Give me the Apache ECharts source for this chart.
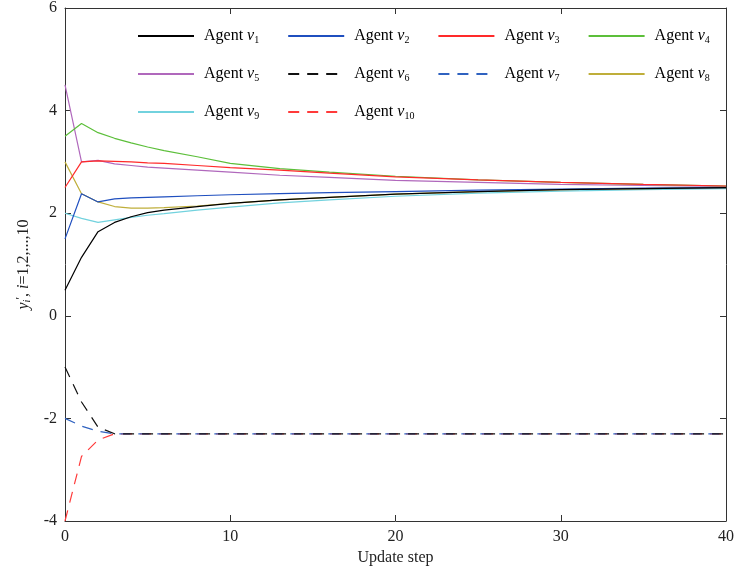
<!DOCTYPE html>
<html>
<head>
<meta charset="utf-8">
<script src="https://cdn.jsdelivr.net/npm/echarts@6/dist/echarts.min.js"></script>
<style>html,body{margin:0;padding:0;background:#fff}#c{width:739px;height:579px}</style>
</head>
<body>
<div id="c"></div>
<script>
const steps = [0, 1, 2, 3, 4, 5, 6, 8, 10, 13, 16, 20, 25, 30, 35, 40];
const v1 = [0.5, 1.14, 1.64, 1.82, 1.93, 2.01, 2.06, 2.13, 2.19, 2.26, 2.31, 2.37, 2.42, 2.46, 2.48, 2.5];
const v2 = [1.5, 2.38, 2.22, 2.28, 2.3, 2.31, 2.32, 2.34, 2.36, 2.38, 2.40, 2.42, 2.45, 2.47, 2.49, 2.5];
const v3 = [2.5, 3.0, 3.02, 3.01, 3.0, 2.98, 2.97, 2.93, 2.89, 2.84, 2.78, 2.71, 2.65, 2.6, 2.56, 2.53];
const v4 = [3.5, 3.75, 3.57, 3.46, 3.37, 3.29, 3.22, 3.1, 2.97, 2.87, 2.8, 2.72, 2.65, 2.6, 2.56, 2.53];
const v5 = [4.5, 3.0, 3.03, 2.96, 2.93, 2.9, 2.88, 2.84, 2.8, 2.74, 2.7, 2.64, 2.6, 2.56, 2.54, 2.52];
const v6 = [-1.0, -1.68, -2.17, -2.3, -2.3, -2.3, -2.3, -2.3, -2.3, -2.3, -2.3, -2.3, -2.3, -2.3, -2.3, -2.3];
const v7 = [-2.0, -2.15, -2.25, -2.3, -2.3, -2.3, -2.3, -2.3, -2.3, -2.3, -2.3, -2.3, -2.3, -2.3, -2.3, -2.3];
const v8 = [3.0, 2.38, 2.22, 2.13, 2.1, 2.1, 2.11, 2.14, 2.19, 2.26, 2.31, 2.37, 2.42, 2.46, 2.48, 2.5];
const v9 = [2.0, 1.9, 1.82, 1.87, 1.92, 1.96, 1.99, 2.06, 2.12, 2.2, 2.26, 2.33, 2.39, 2.43, 2.46, 2.48];
const v10 = [-4.0, -2.74, -2.42, -2.3, -2.3, -2.3, -2.3, -2.3, -2.3, -2.3, -2.3, -2.3, -2.3, -2.3, -2.3, -2.3];
const xTicks = [0, 10, 20, 30, 40];
const yTicks = [-4, -2, 0, 2, 4, 6];

const names = ['Agent v1','Agent v2','Agent v3','Agent v4','Agent v5','Agent v6','Agent v7','Agent v8','Agent v9','Agent v10'];
const values = [v1, v2, v3, v4, v5, v6, v7, v8, v9, v10];
const colors = ['#000000','#1f4fbf','#ff2a2a','#5cbf3a','#b068bc','#111111','#2f62c0','#bfae3a','#72d2de','#ff3a3a'];
const dashed = [false,false,false,false,false,true,true,false,false,true];

const FONT = '"Liberation Serif", "Times New Roman", serif';

const series = names.map((n, i) => ({
  name: n,
  type: 'line',
  symbol: 'none',
  data: steps.map((s, k) => [s, values[i][k]]),
  lineStyle: { color: colors[i], width: 1.2, type: dashed[i] ? [11, 8] : 'solid' },
  itemStyle: { color: colors[i] },
  z: 10 - i
}));

const rich = {
  it: { fontFamily: FONT, fontStyle: 'italic', fontSize: 16, color: '#000' },
  sub: { fontFamily: FONT, fontSize: 10, color: '#000', verticalAlign: 'bottom', padding: [8, 0, 0, 0] }
};

function mkLegend(data, top) {
  return {
    data: data,
    left: 137,
    top: top,
    padding: 0,
    orient: 'horizontal',
    itemWidth: 56,
    itemHeight: 14,
    itemGap: 28,
    selectedMode: false,
    itemStyle: { opacity: 0 },
    textStyle: { fontFamily: FONT, fontSize: 16, color: '#000', rich: rich, padding: [0, 0, 0, 5] },
    formatter: function (name) {
      const n = name.replace('Agent v', '');
      return 'Agent {it|v}{sub|' + n + '}';
    }
  };
}

const axisLineStyle = { show: true, onZero: false, lineStyle: { color: '#333', width: 1 } };
const tickStyle = { inside: true, length: 6, lineStyle: { color: '#333' } };

const option = {
  backgroundColor: '#fff',
  animation: false,
  grid: { left: 65, right: 13, top: 8, bottom: 58 },
  legend: [
    mkLegend(names.slice(0, 4), 28),
    mkLegend(names.slice(4, 8), 66),
    mkLegend(names.slice(8, 10), 104)
  ],
  xAxis: [
    {
      type: 'value', min: xTicks[0], max: xTicks[xTicks.length - 1], interval: 10,
      name: 'Update step', nameLocation: 'middle', nameGap: 28,
      nameTextStyle: { fontFamily: FONT, fontSize: 16, color: '#222' },
      axisLine: axisLineStyle,
      axisTick: tickStyle,
      axisLabel: { fontFamily: FONT, fontSize: 16, color: '#222', margin: 8 },
      splitLine: { show: false }
    },
    {
      type: 'value', min: xTicks[0], max: xTicks[xTicks.length - 1], interval: 10, position: 'top',
      axisLine: axisLineStyle,
      axisTick: tickStyle,
      axisLabel: { show: false },
      splitLine: { show: false }
    }
  ],
  yAxis: [
    {
      type: 'value', min: yTicks[0], max: yTicks[yTicks.length - 1], interval: 2,
      name: '{it|y}{sub|i}{sup|′}{n|, }{it|i}{n|=1,2,...,10}',
      nameLocation: 'middle', nameRotate: 90, nameGap: 24,
      nameTextStyle: {
        fontFamily: FONT, fontSize: 16, color: '#222',
        rich: {
          it: { fontFamily: FONT, fontStyle: 'italic', fontSize: 16, color: '#222' },
          n: { fontFamily: FONT, fontSize: 16, color: '#222' },
          sub: { fontFamily: FONT, fontStyle: 'italic', fontSize: 10, color: '#222', verticalAlign: 'bottom', padding: [8, 0, 0, 0] },
          sup: { fontFamily: FONT, fontSize: 12, color: '#222', verticalAlign: 'top', padding: [0, 0, 6, 0] }
        }
      },
      axisLine: axisLineStyle,
      axisTick: tickStyle,
      axisLabel: { fontFamily: FONT, fontSize: 16, color: '#222', margin: 8 },
      splitLine: { show: false }
    },
    {
      type: 'value', min: yTicks[0], max: yTicks[yTicks.length - 1], interval: 2, position: 'right',
      axisLine: axisLineStyle,
      axisTick: tickStyle,
      axisLabel: { show: false },
      splitLine: { show: false }
    }
  ],
  series: series
};

const chart = echarts.init(document.getElementById('c'), null, { renderer: 'canvas' });
chart.setOption(option);
</script>
</body>
</html>
